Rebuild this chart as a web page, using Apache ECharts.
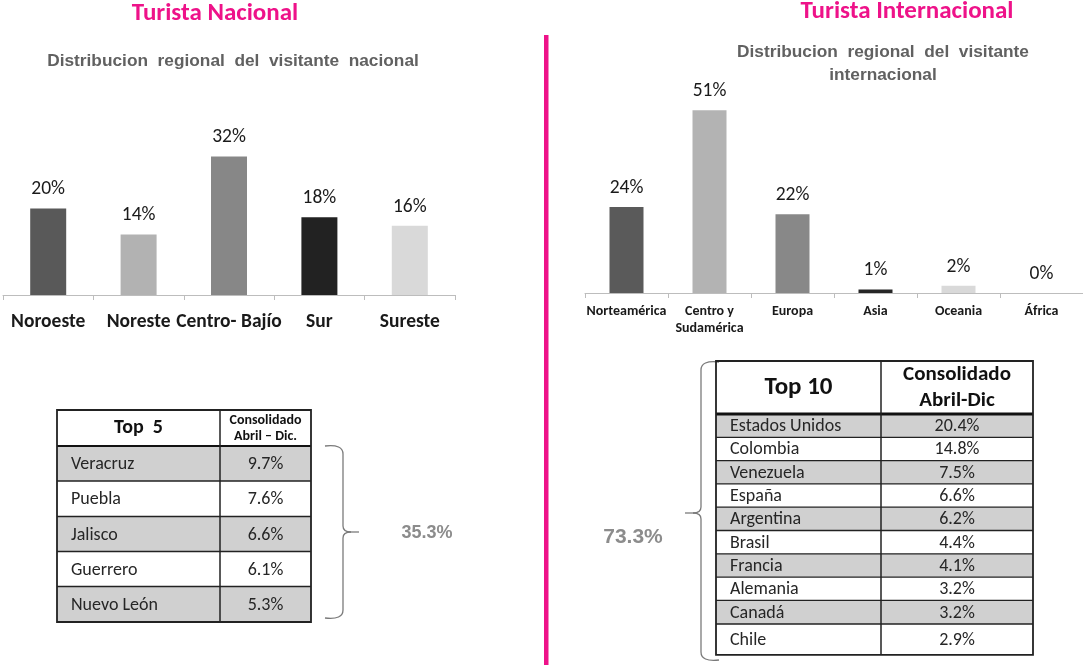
<!DOCTYPE html>
<html>
<head>
<meta charset="utf-8">
<script src="https://cdn.jsdelivr.net/npm/echarts@6/dist/echarts.min.js"></script>
<style>
  html,body{margin:0;padding:0;background:#fff;}
  #chart{width:1083px;height:665px;}
</style>
</head>
<body>
<div id="chart"></div>
<script>
// datos: distribucion regional
const natCats = ['Noroeste', 'Noreste', 'Centro- Bajío', 'Sur', 'Sureste']
const natVals = [20, 14, 32, 18, 16]
const intCats = ['Norteamérica', 'Centro y\nSudamérica', 'Europa', 'Asia', 'Oceania', 'África']
const intVals = [24, 51, 22, 1, 2, 0]

// top estados / paises
const topStates = ['Veracruz', 'Puebla', 'Jalisco', 'Guerrero', 'Nuevo León']
const topStatesPct = ['9.7%', '7.6%', '6.6%', '6.1%', '5.3%']
const topCountries = ['Estados Unidos', 'Colombia', 'Venezuela', 'España', 'Argentina', 'Brasil', 'Francia', 'Alemania', 'Canadá', 'Chile']
const topCountriesPct = ['20.4%', '14.8%', '7.5%', '6.6%', '6.2%', '4.4%', '4.1%', '3.2%', '3.2%', '2.9%']
const natTotal = '35.3%'
const intTotal = '73.3%'

const natColors = ['#595959', '#b2b2b2', '#878787', '#222222', '#d9d9d9']
const intColors = ['#5a5a5a', '#b3b3b3', '#888888', '#262626', '#d9d9d9', '#eeeeee']

const CAL = 'Carlito, Lato, sans-serif'
const ARIAL = '"Liberation Sans", Arial, sans-serif'
const PINK = '#ee1289'

// tabla con graphic (rect + text)
function makeTable(o) {
  const els = []
  let y = o.y + o.headerH
  const rowY = []
  for (let i = 0; i < o.names.length; i++) {
    const h = o.rowH[i]
    rowY.push(y)
    els.push({ type: 'rect', shape: { x: o.x, y: y, width: o.right - o.x, height: h },
      style: { fill: i % 2 === 0 ? '#d0d0d0' : '#ffffff' }, z: 1 })
    els.push({ type: 'text', z: 3, style: { text: o.names[i], x: o.x + o.padL, y: y + h / 2 + 1,
      font: o.rowFont, fill: '#262626', align: 'left', verticalAlign: 'middle' } })
    els.push({ type: 'text', z: 3, style: { text: o.vals[i], x: (o.split + o.right) / 2, y: y + h / 2 + 1,
      font: o.rowFont, fill: '#262626', align: 'center', verticalAlign: 'middle' } })
    y += h
  }
  const bottom = y
  // lineas horizontales
  rowY.forEach(function (ry, i) {
    if (i === 0) return
    els.push({ type: 'line', z: 2, shape: { x1: o.x, y1: ry, x2: o.right, y2: ry },
      style: { stroke: '#222', lineWidth: 1.3 } })
  })
  els.push({ type: 'line', z: 2, shape: { x1: o.x, y1: o.y + o.headerH, x2: o.right, y2: o.y + o.headerH },
    style: { stroke: '#111', lineWidth: o.headLine } })
  els.push({ type: 'line', z: 2, shape: { x1: o.split, y1: o.y, x2: o.split, y2: bottom },
    style: { stroke: '#222', lineWidth: 1.5 } })
  els.push({ type: 'rect', z: 2, shape: { x: o.x, y: o.y, width: o.right - o.x, height: bottom - o.y },
    style: { fill: 'none', stroke: '#222', lineWidth: 1.8 } })
  // encabezados
  els.push({ type: 'text', z: 3, style: { text: o.h1, x: (o.x + o.split) / 2, y: o.y + o.headerH / 2,
    font: o.h1Font, fill: '#111', align: 'center', verticalAlign: 'middle' } })
  els.push({ type: 'text', z: 3, style: { text: o.h2, x: (o.split + o.right) / 2, y: o.y + o.headerH / 2,
    font: o.h2Font, fill: '#111', align: 'center', verticalAlign: 'middle', lineHeight: o.h2LH } })
  return els
}

const natTable = makeTable({
  x: 57, split: 220, right: 311, y: 410, headerH: 36,
  rowH: [35, 35.5, 35, 35, 35.5], padL: 14, headLine: 2,
  names: topStates, vals: topStatesPct,
  h1: 'Top  5', h1Font: 'bold 20px ' + CAL,
  h2: 'Consolidado\nAbril – Dic.', h2Font: 'bold 14px ' + CAL, h2LH: 16,
  rowFont: '18px ' + CAL
})
const intTable = makeTable({
  x: 716, split: 881, right: 1033, y: 361, headerH: 53,
  rowH: [23.3, 23.3, 23.3, 23.3, 23.3, 23.3, 23.3, 23.3, 23.6, 30.8], padL: 14, headLine: 3,
  names: topCountries, vals: topCountriesPct,
  h1: 'Top 10', h1Font: 'bold 25px ' + CAL,
  h2: 'Consolidado\nAbril-Dic', h2Font: 'bold 21px ' + CAL, h2LH: 26,
  rowFont: '18px ' + CAL
})

// llave { } con curvas y lineas
function brace(xv, y1, y2, tipY, dir) {
  const st = { fill: 'none', stroke: '#7a7a7a', lineWidth: 1.3 }
  const q = function (x1, y1_, cx, cy, x2, y2_) {
    return { type: 'bezierCurve', z: 2, shape: { x1: x1, y1: y1_, cpx1: cx, cpy1: cy, x2: x2, y2: y2_ }, style: st }
  }
  const l = function (x1, y1_, x2, y2_) {
    return { type: 'line', z: 2, shape: { x1: x1, y1: y1_, x2: x2, y2: y2_ }, style: st }
  }
  return [
    q(xv - 18 * dir, y1, xv, y1 - 2, xv, y1 + 8),
    l(xv, y1 + 8, xv, tipY - 6),
    q(xv, tipY - 6, xv, tipY, xv + 8 * dir, tipY),
    q(xv, tipY + 6, xv, tipY, xv + 8 * dir, tipY),
    l(xv + 8 * dir, tipY, xv + 16 * dir, tipY),
    l(xv, tipY + 6, xv, y2 - 8),
    q(xv, y2 - 8, xv, y2 + 2, xv - 18 * dir, y2)
  ]
}

const chart = echarts.init(document.getElementById('chart'))

const option = {
  backgroundColor: '#fff',
  animation: false,
  grid: [
    { left: 3, width: 452, top: 122, height: 173 },
    { left: 585, right: 0, top: 78, height: 215 }
  ],
  xAxis: [
    {
      type: 'category', gridIndex: 0, data: natCats,
      axisLine: { lineStyle: { color: '#bdbdbd', width: 1 } },
      axisTick: { show: true, length: 5, lineStyle: { color: '#bdbdbd' } },
      axisLabel: { interval: 0, hideOverlap: false, margin: 17, color: '#1a1a1a', fontSize: 19.5, fontWeight: 'bold', fontFamily: CAL }
    },
    {
      type: 'category', gridIndex: 1, data: intCats,
      axisLine: { lineStyle: { color: '#bdbdbd', width: 1 } },
      axisTick: { show: true, length: 5, lineStyle: { color: '#bdbdbd' } },
      axisLabel: { interval: 0, hideOverlap: false, margin: 10, color: '#1a1a1a', fontSize: 14, fontWeight: 'bold', fontFamily: CAL, lineHeight: 17, verticalAlign: 'top' }
    }
  ],
  yAxis: [
    { type: 'value', gridIndex: 0, min: 0, max: 40, show: false, splitLine: { show: false } },
    { type: 'value', gridIndex: 1, min: 0, max: 60, show: false, splitLine: { show: false } }
  ],
  series: [
    {
      type: 'bar', xAxisIndex: 0, yAxisIndex: 0, barWidth: 36,
      data: natVals.map(function (v, i) { return { value: v, itemStyle: { color: natColors[i] } } }),
      label: { show: true, position: 'top', distance: 9, formatter: '{c}%', color: '#1a1a1a', fontSize: 19.5, fontFamily: CAL }
    },
    {
      type: 'bar', xAxisIndex: 1, yAxisIndex: 1, barWidth: 34,
      data: intVals.map(function (v, i) { return { value: v, itemStyle: { color: intColors[i] } } }),
      label: { show: true, position: 'top', distance: 9, formatter: '{c}%', color: '#1a1a1a', fontSize: 19.5, fontFamily: CAL }
    }
  ],
  graphic: [
    { type: 'text', style: { text: 'Turista Nacional', x: 215, y: 14, font: 'bold 25px ' + CAL, fill: PINK, align: 'center', verticalAlign: 'middle' } },
    { type: 'text', style: { text: 'Turista Internacional', x: 907, y: 12, font: 'bold 25px ' + CAL, fill: PINK, align: 'center', verticalAlign: 'middle' } },
    { type: 'text', style: { text: 'Distribucion  regional  del  visitante  nacional', x: 233, y: 61, font: 'bold 17.3px ' + ARIAL, fill: '#616161', align: 'center', verticalAlign: 'middle' } },
    { type: 'text', style: { text: 'Distribucion  regional  del  visitante\ninternacional', x: 883, y: 64, font: 'bold 17.3px ' + ARIAL, fill: '#616161', align: 'center', verticalAlign: 'middle', lineHeight: 23 } },
    { type: 'rect', shape: { x: 544, y: 35, width: 4.5, height: 630 }, style: { fill: PINK } },
    { type: 'text', style: { text: natTotal, x: 427, y: 533, font: 'bold 18px ' + ARIAL, fill: '#8c8c8c', align: 'center', verticalAlign: 'middle' } },
    { type: 'text', style: { text: intTotal, x: 633, y: 537, font: 'bold 21px ' + ARIAL, fill: '#8c8c8c', align: 'center', verticalAlign: 'middle' } }
  ].concat(brace(343, 446, 618, 532, 1), brace(701, 362, 660, 513, -1), natTable, intTable)
}

chart.setOption(option)
window.addEventListener('resize', function () { chart.resize() })
</script>
</body>
</html>
